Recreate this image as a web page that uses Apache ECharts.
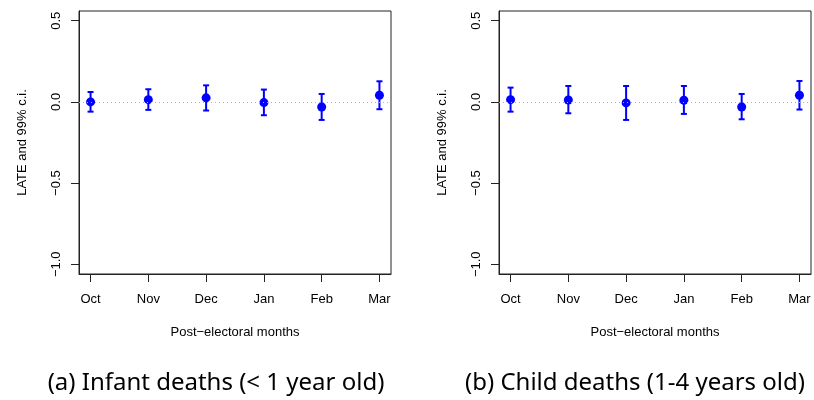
<!DOCTYPE html>
<html>
<head>
<meta charset="utf-8">
<script src="https://cdn.jsdelivr.net/npm/echarts@6/dist/echarts.min.js"></script>
<style>
  html, body { margin: 0; padding: 0; background: #fff; }
  #chart { width: 814px; height: 400px; }
</style>
</head>
<body>
<div id="chart"></div>
<script>
// Post-electoral months on the horizontal axis
const months = ['Oct', 'Nov', 'Dec', 'Jan', 'Feb', 'Mar'];
const monthPos = [1, 2, 3, 4, 5, 6];

// (a) Infant deaths: LATE estimates with 99% confidence bounds
const infantEst = [0.000, 0.014, 0.025, -0.004, -0.031, 0.041];
const infantLo  = [-0.060, -0.049, -0.053, -0.082, -0.111, -0.045];
const infantHi  = [0.061, 0.078, 0.102, 0.076, 0.049, 0.127];

// (b) Child deaths: LATE estimates with 99% confidence bounds
const childEst = [0.014, 0.012, -0.006, 0.010, -0.031, 0.041];
const childLo  = [-0.060, -0.070, -0.111, -0.074, -0.107, -0.047];
const childHi  = [0.088, 0.098, 0.098, 0.098, 0.049, 0.129];

// Vertical axis ticks
const yTicks = [-1.0, -0.5, 0.0, 0.5];

const captions = ['(a) Infant deaths (< 1 year old)', '(b) Child deaths (1-4 years old)'];

const BLUE = '#0000ff';
const AXIS = '#222';
const LABEL_FONT = 'Liberation Sans, Arial, sans-serif';

const fmtY = v => (v < 0 ? '\u2212' : '') + Math.abs(v).toFixed(1);

function makeGrid(left) {
  return { left: left, top: 11, width: 312, height: 263, show: true,
           borderColor: AXIS, borderWidth: 1, backgroundColor: 'transparent' };
}

function makeXAxis(idx) {
  return {
    gridIndex: idx, type: 'value', min: 0.8, max: 6.2,
    name: 'Post\u2212electoral months', nameLocation: 'middle', nameGap: 52,
    nameTextStyle: { fontFamily: LABEL_FONT, fontSize: 13, color: '#000' },
    axisLine: { show: true, onZero: false, lineStyle: { color: AXIS, width: 1 } },
    axisTick: { show: true, customValues: monthPos, length: 8, inside: false,
                lineStyle: { color: AXIS, width: 1 } },
    axisLabel: { customValues: monthPos, margin: 19, fontFamily: LABEL_FONT, fontSize: 13,
                 color: '#000', formatter: v => months[Math.round(v) - 1] },
    splitLine: { show: false }
  };
}

function makeYAxis(idx) {
  return {
    gridIndex: idx, type: 'value', min: -1.06, max: 0.56,
    name: 'LATE and 99% c.i.', nameLocation: 'middle', nameGap: 50, nameRotate: 90,
    nameTextStyle: { fontFamily: LABEL_FONT, fontSize: 13, color: '#000' },
    axisLine: { show: true, onZero: false, lineStyle: { color: AXIS, width: 1 } },
    axisTick: { show: true, customValues: yTicks, length: 8,
                lineStyle: { color: AXIS, width: 1 } },
    axisLabel: { customValues: yTicks, rotate: 90, margin: 16, fontFamily: LABEL_FONT,
                 fontSize: 13, color: '#000', formatter: fmtY },
    splitLine: { show: false }
  };
}

function rows(est, lo, hi) {
  return monthPos.map((x, i) => [x, lo[i], hi[i], est[i]]);
}

function errorBars(idx, est, lo, hi) {
  return {
    type: 'custom', xAxisIndex: idx, yAxisIndex: idx,
    data: rows(est, lo, hi),
    encode: { x: 0, y: [1, 2] },
    z: 3,
    renderItem: function (params, api) {
      const x = api.value(0);
      const pLo = api.coord([x, api.value(1)]);
      const pHi = api.coord([x, api.value(2)]);
      const cap = 3;
      const style = { stroke: BLUE, lineWidth: 2 };
      return {
        type: 'group',
        children: [
          { type: 'line', shape: { x1: pLo[0], y1: pLo[1], x2: pHi[0], y2: pHi[1] }, style: style },
          { type: 'line', shape: { x1: pLo[0] - cap, y1: pLo[1], x2: pLo[0] + cap, y2: pLo[1] }, style: style },
          { type: 'line', shape: { x1: pHi[0] - cap, y1: pHi[1], x2: pHi[0] + cap, y2: pHi[1] }, style: style }
        ]
      };
    }
  };
}

function points(idx, est) {
  return {
    type: 'scatter', xAxisIndex: idx, yAxisIndex: idx,
    data: monthPos.map((x, i) => [x, est[i]]),
    symbol: 'circle', symbolSize: 9, z: 4,
    itemStyle: { color: BLUE, opacity: 1 },
    markLine: {
      silent: true, symbol: 'none', label: { show: false },
      lineStyle: { color: '#b0b0b0', type: [1, 3], width: 1, opacity: 1 },
      data: [{ yAxis: 0 }]
    }
  };
}

const chart = echarts.init(document.getElementById('chart'), null, { renderer: 'canvas' });

chart.setOption({
  animation: false,
  backgroundColor: '#fff',
  grid: [makeGrid(79), makeGrid(499)],
  xAxis: [makeXAxis(0), makeXAxis(1)],
  yAxis: [makeYAxis(0), makeYAxis(1)],
  series: [
    errorBars(0, infantEst, infantLo, infantHi),
    points(0, infantEst),
    errorBars(1, childEst, childLo, childHi),
    points(1, childEst)
  ],
  graphic: [
    { type: 'text', x: 216, y: 383,
      style: { text: captions[0], font: '24px "Noto Sans"', fill: '#000',
               textAlign: 'center', textVerticalAlign: 'middle' } },
    { type: 'text', x: 635, y: 383,
      style: { text: captions[1], font: '24px "Noto Sans"', fill: '#000',
               textAlign: 'center', textVerticalAlign: 'middle' } }
  ]
});
</script>
</body>
</html>
